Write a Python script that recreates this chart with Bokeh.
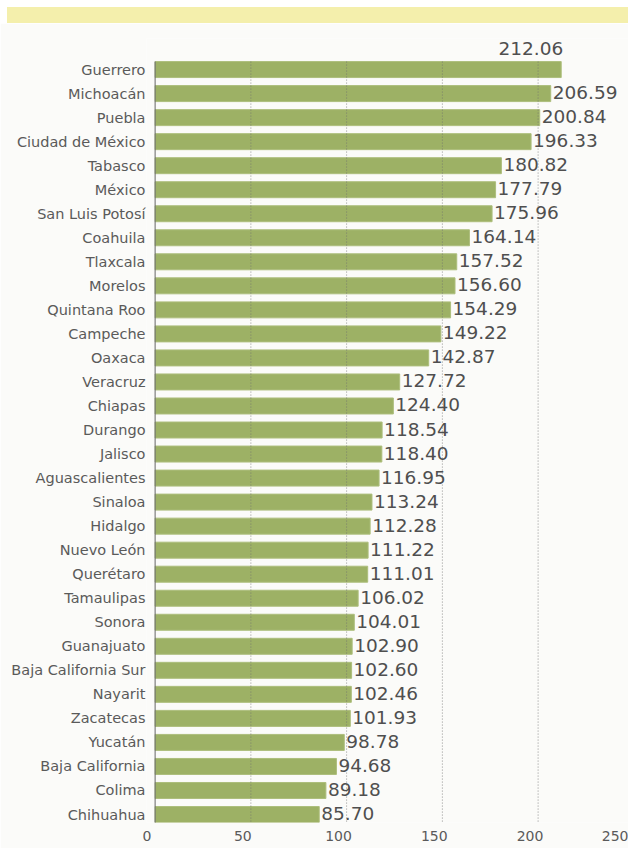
from bokeh.plotting import figure
from bokeh.models import (ColumnDataSource, Range1d, FixedTicker, LabelSet,
                          CustomJSTickFormatter, Div)
from bokeh.core.properties import value
from bokeh.layouts import column
from bokeh.embed import file_html
from bokeh.resources import INLINE

states = ["Guerrero", "Michoacán", "Puebla", "Ciudad de México", "Tabasco", "México",
          "San Luis Potosí", "Coahuila", "Tlaxcala", "Morelos", "Quintana Roo", "Campeche",
          "Oaxaca", "Veracruz", "Chiapas", "Durango", "Jalisco", "Aguascalientes", "Sinaloa",
          "Hidalgo", "Nuevo León", "Querétaro", "Tamaulipas", "Sonora", "Guanajuato",
          "Baja California Sur", "Nayarit", "Zacatecas", "Yucatán", "Baja California",
          "Colima", "Chihuahua"]
values = [212.06, 206.59, 200.84, 196.33, 180.82, 177.79, 175.96, 164.14, 157.52, 156.60,
          154.29, 149.22, 142.87, 127.72, 124.40, 118.54, 118.40, 116.95, 113.24, 112.28,
          111.22, 111.01, 106.02, 104.01, 102.90, 102.60, 102.46, 101.93, 98.78, 94.68,
          89.18, 85.70]
x_ticks = [0, 50, 100, 150, 200, 250]
grid_ticks = [50, 100, 150, 200]

BG = "#fbfbf9"
BAR = "#9db165"
TXT = "#4f4f4f"
LBL = "#5a5a5a"
BAR_H = 0.665
TOP_PAD = 0.96      # room above the first bar for its value label
LABEL_SHIFT = 4.2   # tick labels sit a little left of their grid lines

pos = list(range(len(states)))
labels_txt = ["%.2f" % v for v in values]
n = len(states)
bar_top = -BAR_H / 2
bar_bottom = n - 1 + BAR_H / 2

src = ColumnDataSource(dict(y=pos, v=values, t=labels_txt))
top_src = ColumnDataSource(dict(y=pos[:1], v=values[:1], t=labels_txt[:1]))
rest_src = ColumnDataSource(dict(y=pos[1:], v=values[1:], t=labels_txt[1:]))

p = figure(width=628, height=825, output_backend="svg", toolbar_location=None,
           x_range=Range1d(-4.5, 247.2),
           y_range=Range1d(bar_bottom, bar_top - TOP_PAD),
           min_border_left=146, min_border_right=0, min_border_top=15,
           min_border_bottom=26)
p.background_fill_color = BG
p.border_fill_color = BG
p.outline_line_color = None
p.grid.grid_line_color = None

p.hbar(y="y", left=0, right="v", height=BAR_H, source=src,
       fill_color=BAR, line_color="#adbe7c", line_width=1)

# dotted grid lines, drawn over the bars, spanning the bars only
p.segment(x0=grid_ticks, x1=grid_ticks, y0=[bar_top] * len(grid_ticks),
          y1=[bar_bottom + 0.12] * len(grid_ticks),
          line_color="#6e6e6e", line_alpha=0.75, line_dash="1 2", line_width=1)
# zero line
p.segment(x0=[0], x1=[0], y0=[bar_top], y1=[bar_bottom + 0.12],
          line_color="#666666", line_width=1)

# y axis (categories)
p.yaxis.ticker = FixedTicker(ticks=pos)
p.yaxis.major_label_overrides = {i: s for i, s in zip(pos, states)}
p.yaxis.axis_line_color = None
p.yaxis.major_tick_line_color = None
p.yaxis.minor_tick_line_color = None
p.yaxis.major_tick_out = 0
p.yaxis.major_tick_in = 0
p.yaxis.major_label_standoff = 1
p.yaxis.major_label_text_font = "DejaVu Sans"
p.yaxis.major_label_text_font_size = "14.5px"
p.yaxis.major_label_text_color = LBL

# x axis
p.xaxis.ticker = FixedTicker(ticks=[t - LABEL_SHIFT for t in x_ticks])
p.xaxis.formatter = CustomJSTickFormatter(code="return Math.round(tick + %s).toString();" % LABEL_SHIFT)
p.xaxis.axis_line_color = None
p.xaxis.major_tick_line_color = None
p.xaxis.minor_tick_line_color = None
p.xaxis.major_tick_out = 0
p.xaxis.major_tick_in = 0
p.xaxis.major_label_standoff = 8
p.xaxis.major_label_text_font = "DejaVu Sans"
p.xaxis.major_label_text_font_size = "14px"
p.xaxis.major_label_text_color = LBL

p.add_layout(LabelSet(x="v", y="y", text="t", source=rest_src, x_offset=2, y_offset=1,
                      text_baseline="middle", text_align="left",
                      text_font=value("DejaVu Sans"), text_font_size=value("18.5px"),
                      text_color=TXT))
p.add_layout(LabelSet(x="v", y="y", text="t", source=top_src, x_offset=2, y_offset=21,
                      text_baseline="middle", text_align="right",
                      text_font=value("DejaVu Sans"), text_font_size=value("18.5px"),
                      text_color=TXT))

band = Div(text="", width=621, height=16, margin=(7, 0, 0, 7),
           styles={"background-color": "#f4efac"})

layout = column(band, p, spacing=0)
open("out.html", "w").write(file_html(layout, INLINE))
